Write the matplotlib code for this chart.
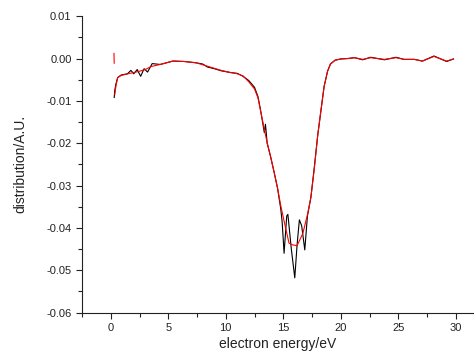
import matplotlib
matplotlib.use('Agg')
import matplotlib.pyplot as plt
from matplotlib.ticker import MultipleLocator, FormatStrFormatter

plt.rcParams['font.family'] = ['Liberation Sans', 'DejaVu Sans']

# 黑線: 原始資料
black_x = [0.3, 0.35, 0.45, 0.6, 0.9, 1.45, 1.75, 2.0, 2.3, 2.6,
           2.9, 3.2, 3.6, 4.3, 5.4, 6.4, 7.4, 8.0, 8.4, 9.0,
           9.6, 10.4, 11.0, 11.5, 12.0, 12.5, 12.8, 13.0, 13.2, 13.35,
           13.45, 13.6, 13.9, 14.2, 14.5, 14.78, 14.9, 15.07, 15.3, 15.4,
           15.7, 16.0, 16.2, 16.4, 16.6, 16.87, 17.1, 17.4, 17.7, 18.0,
           18.3, 18.55, 18.85, 19.1, 19.5, 20.0, 20.6, 21.2, 21.9, 22.6,
           23.2, 23.8, 24.8, 25.5, 26.4, 27.1, 28.1, 29.2, 29.8]
black_y = [-0.0092, -0.0075, -0.0060, -0.0045, -0.0039, -0.0036, -0.0028, -0.0036, -0.0026, -0.0042,
           -0.0024, -0.0032, -0.0012, -0.0014, -0.0006, -0.0007, -0.0010, -0.0013, -0.0020, -0.0024,
           -0.0029, -0.0033, -0.0035, -0.0042, -0.0052, -0.0068, -0.0090, -0.0118, -0.0150, -0.0175,
           -0.0155, -0.0200, -0.0232, -0.0268, -0.0306, -0.0355, -0.0385, -0.0460, -0.0372, -0.0368,
           -0.0450, -0.0518, -0.0440, -0.0381, -0.0395, -0.0452, -0.0372, -0.0328, -0.0256, -0.0180,
           -0.0118, -0.0066, -0.0030, -0.0013, -0.0004, -0.0001, 0.0, 0.0002, -0.0003, 0.0003,
           0.0, -0.0003, 0.0003, -0.0002, -0.0002, -0.0006, 0.0006, -0.0007, -0.0001]

# 紅線: 平滑後資料
red_x = [0.35, 0.45, 0.6, 0.9, 1.5, 2.0, 2.5, 3.0, 3.5, 4.3,
         5.4, 6.4, 7.4, 8.4, 9.6, 10.4, 11.0, 11.5, 12.0, 12.5,
         12.8, 13.0, 13.3, 13.6, 13.9, 14.2, 14.5, 14.8, 15.2, 15.5,
         15.8, 16.2, 16.7, 17.1, 17.4, 17.7, 18.0, 18.3, 18.55, 18.85,
         19.1, 19.5, 20.0, 20.6, 21.2, 21.9, 22.6, 23.2, 23.8, 24.8,
         25.5, 26.4, 27.1, 28.1, 29.2, 29.8]
red_y = [-0.0085, -0.0065, -0.0045, -0.0040, -0.0036, -0.0033, -0.0030, -0.0026, -0.0019, -0.0014,
         -0.0006, -0.0007, -0.0010, -0.0018, -0.0028, -0.0033, -0.0036, -0.0041, -0.0055, -0.0072,
         -0.0093, -0.0120, -0.0160, -0.0199, -0.0232, -0.0268, -0.0306, -0.0350, -0.0400, -0.0436,
         -0.0440, -0.0442, -0.0413, -0.0369, -0.0328, -0.0260, -0.0180, -0.0117, -0.0066, -0.0030,
         -0.0013, -0.0004, -0.0001, 0.0, 0.0002, -0.0002, 0.0002, 0.0, -0.0002, 0.0002,
         -0.0002, -0.0002, -0.0006, 0.0005, -0.0006, -0.0001]

# 紅線開頭的短線段
red_start_x = [0.28, 0.30]
red_start_y = [0.0012, -0.0011]

fig = plt.figure(figsize=(4.74, 3.52), dpi=100)
ax = fig.add_axes([0.173, 0.112, 0.825, 0.842])

ax.plot(black_x, black_y, color='black', lw=0.8)
ax.plot(red_x, red_y, color='red', lw=0.8)
ax.plot(red_start_x, red_start_y, color='red', lw=0.8)

ax.set_xlim(-2.5, 31.5)
ax.set_ylim(-0.06, 0.01)
ax.xaxis.set_major_locator(MultipleLocator(5))
ax.xaxis.set_minor_locator(MultipleLocator(2.5))
ax.yaxis.set_major_locator(MultipleLocator(0.01))
ax.yaxis.set_minor_locator(MultipleLocator(0.005))
ax.yaxis.set_major_formatter(FormatStrFormatter('%.2f'))

ax.spines['top'].set_visible(False)
ax.spines['right'].set_visible(False)
for s in ax.spines.values():
    s.set_linewidth(0.8)
    s.set_color('#222222')
ax.tick_params(which='both', direction='out', labelsize=8, colors='#222222', width=0.8)
ax.tick_params(which='major', length=4)
ax.tick_params(which='minor', length=3)

ax.set_xlabel('electron energy/eV', fontsize=10, labelpad=3, color='#222222')
ax.set_ylabel('distribution/A.U.', fontsize=10, labelpad=14, color='#222222')

plt.savefig('out.png', dpi=100)
